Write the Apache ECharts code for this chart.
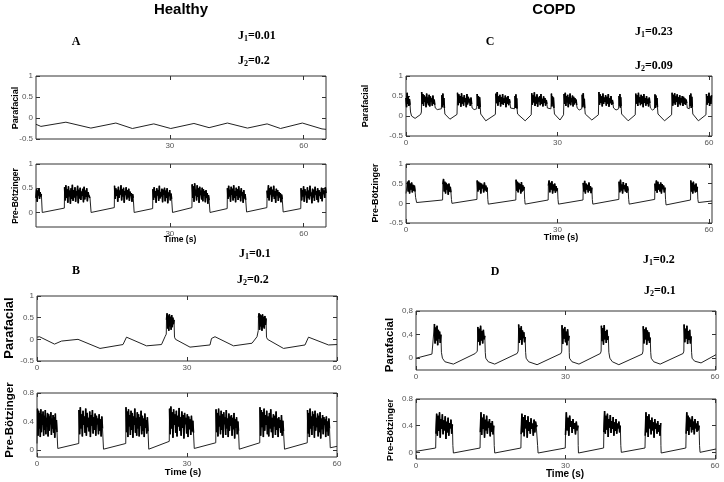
<!DOCTYPE html>
<html><head><meta charset="utf-8">
<script src="https://cdn.jsdelivr.net/npm/echarts@6/dist/echarts.min.js"></script>
<style>html,body{margin:0;padding:0;background:#fff}#c{width:724px;height:482px}</style>
</head><body><div id="c"></div>
<script>
// ---------- DATA (time in s, activity) ----------
// Slow-wave key points [t, v]; bursts: [tStart, tEnd, [values x100]]
const A1_wave = [[0,-0.15],[1.1,-0.2],[6.7,-0.1],[12.3,-0.24],[17.9,-0.12],[21.6,-0.25],[26.4,-0.14],[30.2,-0.25],[35.4,-0.13],[38.8,-0.23],[42.9,-0.12],[47.4,-0.24],[51.8,-0.14],[54.8,-0.25],[59.7,-0.12],[64.1,-0.26],[65,-0.27]];

const A2_wave = [[1.4,0.0],[6.35,0.09],[12.35,0.0],[17.55,0.1],[22.0,0.0],[26.15,0.08],[30.6,0.0],[34.95,0.1],[39.0,0.0],[42.85,0.08],[47.2,0.01],[51.75,0.1],[55.4,0.01],[59.35,0.08]];
const A2_bursts = [
 [0,1.2,[30,48,22,45,35,50,28,42,33,38]],
 [6.4,12.1,[52,25,56,30,48,20,54,33,45,18,50,28,57,24,46,31,52,22,44,35,55,19,47,29,51,26,43,34,49,21,53,27,45,32,50,23,42,36,38,30]],
 [17.6,21.8,[55,28,50,34,47,22,53,30,45,37,56,25,48,33,51,20,44,36,52,27,46,31,49,24,43,35,40,22,38,30]],
 [26.2,30.4,[48,26,52,31,44,20,50,35,46,24,55,29,42,33,49,21,47,36,51,23,45,30,50,19,41,34,46,25,39,28]],
 [35.0,38.8,[58,30,54,22,60,35,47,25,56,32,50,20,53,36,45,27,51,23,48,34,44,21,46,30,40,18,36,25]],
 [42.9,47.0,[50,28,55,33,47,22,53,36,49,25,56,30,44,21,51,34,48,26,54,31,45,23,50,35,42,20,46,29,38,26]],
 [51.8,55.2,[45,30,56,25,50,37,53,22,47,33,55,28,44,20,49,35,46,24,42,31,40,21,37,27]],
 [59.4,65,[50,25,46,33,54,22,48,36,43,20,52,30,45,27,55,34,41,19,49,31,47,24,53,37,44,26,50,21,46,35,42,28,51,23,48,38,45,30,52,40]]
];

const C1_wave = [[0.9,0.1],[1.1,0.0],[1.8,-0.06],[2.9,0.04],[3.05,0.1],
 [5.8,0.2],[6.2,0.16],[7.0,0.18],[7.7,0.05],[8.0,0.0],[8.7,-0.08],[10.1,0.04],
 [13.1,0.2],[13.5,0.16],[14.0,0.18],[14.8,0.05],[15.1,0.0],[15.8,-0.12],[17.7,0.04],
 [20.7,0.2],[21.0,0.16],[21.5,0.18],[22.1,0.05],[22.4,0.0],[23.6,-0.12],[24.8,0.03],
 [28.0,0.2],[28.3,0.16],[28.7,0.18],[29.4,0.05],[29.7,0.0],[30.5,-0.1],[31.2,0.03],
 [33.9,0.2],[34.3,0.15],[34.8,0.18],[35.5,0.05],[35.8,0.0],[36.8,-0.1],[38.1,0.03],
 [41.1,0.2],[41.6,0.15],[42.1,0.18],[42.7,0.05],[43.0,0.0],[44.0,-0.12],[45.4,0.03],
 [48.4,0.2],[48.8,0.15],[49.2,0.18],[49.9,0.05],[50.2,0.0],[51.2,-0.12],[52.6,0.03],
 [55.7,0.2],[55.9,0.15],[56.1,0.18],[56.8,0.05],[57.1,0.0],[57.9,-0.12],[59.4,0.03]];
const C1_bursts = [
 [0,0.8,[45,22,58,30,50,25,42,28]],
 [3.1,5.7,[60,30,55,25,52,35,48,22,56,32,46,27,53,24,49,36,44,26,51,30,41,28]],
 [7.1,7.6,[52,22,56,28,45,20]],
 [10.2,13.0,[58,27,54,33,50,23,57,31,47,26,52,35,45,22,55,29,48,34,43,25,46,30]],
 [14.1,14.7,[55,25,50,18,47,22]],
 [17.8,20.6,[56,32,60,26,49,35,53,24,47,30,55,28,44,33,51,22,46,31,50,27,42,33]],
 [21.6,22.0,[50,20,54,26,44,18]],
 [24.9,27.9,[57,28,52,34,59,25,48,31,54,23,46,36,50,27,55,30,43,24,49,33,45,26,40,30]],
 [28.8,29.3,[56,24,49,30,46,20]],
 [31.3,33.8,[55,30,58,25,50,34,53,22,47,31,56,27,44,35,51,24,48,29,45,33,41,27]],
 [34.9,35.4,[53,22,57,27,43,19]],
 [38.2,41.0,[60,28,54,33,49,24,56,30,46,35,52,26,48,31,55,23,44,32,50,28,40,30]],
 [42.2,42.6,[50,26,55,21,47,24]],
 [45.5,48.3,[56,31,52,25,58,34,47,27,53,30,49,22,55,33,45,26,50,30,43,24,46,32]],
 [49.3,49.8,[54,20,51,28,45,22]],
 [52.7,55.6,[58,26,53,32,57,28,49,35,54,23,47,31,52,27,45,34,50,25,48,30,44,28,41,32]],
 [56.2,56.7,[52,25,56,20,48,23]],
 [59.5,60.5,[55,28,50,33,58,25,47,30,52]]
];

const C2_wave = [[0,0.25],[1.9,0.15],[2.1,0.02],[7.25,0.085],[9.0,0.1],[9.1,0.0],[14.05,0.1],[16.2,0.1],[16.3,-0.02],[21.75,0.085],
 [23.5,0.1],[23.6,-0.02],[28.15,0.085],[30.1,0.1],[30.2,-0.02],[35.05,0.085],[36.9,0.1],[37.0,-0.02],[42.15,0.1],
 [44.1,0.1],[44.2,-0.02],[49.25,0.1],[51.4,0.1],[51.5,-0.04],[56.35,0.085],[57.8,0.1],[57.9,0.02],[60.6,0.06]];
const C2_bursts = [
 [0.3,1.8,[55,30,58,25,50,35,53,28,47,32,45,30]],
 [7.3,8.9,[48,62,30,55,25,52,35,48,22,50,30,42,28]],
 [14.1,16.1,[58,30,55,35,52,25,50,38,47,28,53,33,45,30,40]],
 [21.8,23.4,[60,32,55,28,52,36,49,25,54,30,46,33,42]],
 [28.2,30.0,[45,58,28,52,35,56,25,48,33,50,27,44,31,38]],
 [35.1,36.8,[52,30,57,25,50,35,47,28,53,32,44,26,40]],
 [42.2,44.0,[55,28,60,33,48,25,54,36,46,30,51,27,43,32]],
 [49.3,51.3,[50,32,58,27,55,35,48,30,53,25,49,36,45,28,40]],
 [56.4,57.7,[58,30,52,25,55,33,47,28,50,30,42]]
];

const B1_wave = [[0,0.05],[0.5,0.06],[3.5,-0.11],[4.9,-0.04],[8.2,0.0],[12.6,-0.21],[17.2,-0.12],[17.9,0.05],[18.2,0.05],[21.9,-0.15],[24.9,-0.12],[25.6,0.06],[25.85,0.12],
 [27.5,0.05],[27.7,0.0],[30.6,-0.18],[34.6,-0.13],[34.9,0.02],[35.6,0.06],[39.3,-0.15],[43.0,-0.09],[44.0,0.06],[44.25,0.2],
 [45.9,0.05],[46.1,0.0],[49.3,-0.21],[53.6,-0.13],[54.3,0.05],[54.6,0.06],[58.3,-0.13],[60,-0.12]];
const B1_bursts = [
 [25.9,27.4,[45,60,25,55,20,58,30,52,22,56,28,50,35,45]],
 [44.3,45.8,[50,60,22,57,30,55,20,58,28,52,25,54,33,48]]
];

const B2_wave = [[0,0.09],[4.15,0.02],[8.35,0.09],[13.3,0.01],[17.75,0.09],[22.35,0.01],[26.45,0.12],[31.45,0.02],[35.75,0.1],[40.45,0.01],[44.55,0.1],[49.5,0.01],[54.05,0.1],[58.65,0.03],[60,0.05]];
const B2_bursts = [
 [0.1,4.0,[58,20,55,30,52,18,57,25,50,35,54,20,48,28,56,22,45,33,52,19,50,27,47,36,53,21,44,30,49,24,46,17,51,29,42,25]],
 [8.4,13.1,[56,22,60,30,50,19,55,35,47,24,58,20,52,32,45,26,54,18,49,34,56,23,46,28,51,20,48,36,44,22,50,27,43,19,47,30]],
 [17.8,22.2,[60,25,54,18,57,33,49,21,55,28,52,17,47,35,58,24,45,20,53,30,50,19,46,34,55,22,48,27,44,18,51,31,42,23,46,26]],
 [26.5,31.3,[58,22,61,30,53,17,57,35,50,24,55,19,48,33,59,27,46,20,54,31,49,16,52,36,45,23,50,18,47,29,43,21,48,26,41,24]],
 [35.8,40.3,[57,25,52,19,58,33,48,22,55,28,50,17,53,36,46,21,56,30,44,18,51,27,47,34,49,20,45,29,52,16,43,31,46,22,40,27]],
 [44.6,49.3,[60,20,56,32,53,18,58,27,49,35,55,22,47,19,52,30,57,25,45,17,50,33,48,21,54,28,44,18,46,31,42,24,49,20,41,26]],
 [54.1,58.5,[56,23,52,18,58,30,47,21,54,34,50,17,55,27,45,32,51,19,48,25,53,16,44,29,49,22,46,35,43,18,47,26,40,20,44,30]]
];

const D1_wave = [[0,0.0],[3.2,0.07],[3.6,0.1],[5.1,0.1],[5.3,0.0],[5.8,-0.06],[7.5,-0.1],[11.9,0.08],[12.3,0.12],
 [13.9,0.1],[14.0,0.0],[14.5,-0.06],[15.8,-0.1],[20.3,0.08],[20.5,0.12],
 [22.0,0.1],[22.1,0.0],[22.6,-0.06],[24.3,-0.11],[29.1,0.08],[29.25,0.12],
 [30.75,0.1],[30.8,0.0],[31.3,-0.06],[32.7,-0.1],[37.0,0.08],[37.15,0.12],
 [38.7,0.1],[38.9,0.0],[39.4,-0.06],[40.7,-0.11],[45.4,0.07],[45.55,0.12],
 [47.1,0.1],[47.2,0.0],[47.7,-0.06],[49.0,-0.1],[53.6,0.08],[53.75,0.12],
 [55.3,0.1],[55.4,0.0],[55.9,-0.05],[57.2,-0.08],[60.2,0.06]];
const D1_bursts = [
 [3.7,5.0,[58,25,52,30,55,22,48,33,45,26,40]],
 [12.4,13.8,[53,28,50,22,55,30,46,25,48,32,38]],
 [20.6,21.9,[57,26,51,31,54,23,47,34,44,27,36]],
 [29.3,30.7,[56,24,50,33,53,27,45,22,49,30,38]],
 [37.2,38.6,[55,29,51,23,56,32,46,26,48,31,37]],
 [45.6,47.0,[54,25,49,32,52,23,47,30,44,26,35]],
 [53.8,55.2,[57,27,50,33,55,24,46,31,48,25,37]]
];

const D2_wave = [[0,0.015],[3.95,0.065],[7.4,0.1],[7.5,-0.01],[12.85,0.065],[15.7,0.1],[15.8,-0.01],[21.05,0.065],[24.4,0.1],[24.5,-0.01],[29.95,0.065],
 [32.55,0.1],[32.6,-0.01],[37.65,0.065],[41.1,0.1],[41.2,0.0],[45.95,0.065],[49.15,0.1],[49.2,-0.01],[54.15,0.065],[56.9,0.1],[57.0,0.0],[60.2,0.05]];
const D2_bursts = [
 [4.0,7.3,[28,58,25,55,32,60,22,50,35,57,27,48,33,54,20,46,30,52,25,44,36,49,28,42]],
 [12.9,15.6,[30,60,26,52,35,57,22,49,33,55,28,46,37,50,24,44,31,47,27,40]],
 [21.1,24.3,[27,58,30,53,24,56,36,48,22,54,32,45,28,51,35,43,25,49,30,46,38,41]],
 [30.0,32.5,[26,60,33,52,25,55,38,47,29,50,35,44,27,46,33,40]],
 [37.7,41.0,[30,62,28,55,34,58,23,50,37,56,29,47,35,53,25,45,32,50,28,43,36,46,30,40]],
 [46.0,49.1,[25,60,30,54,23,57,36,48,27,52,33,45,22,50,35,43,28,47,31,41,25,44]],
 [54.2,56.8,[28,60,32,55,26,52,38,49,30,54,34,46,27,50,36,43,31,47,33,40]]
];

// tick labels
const xTicksA = [30, 60];
const xTicks = [0, 30, 60];
const yTicksFull = [-0.5, 0, 0.5, 1];
const yTicksA2 = [0, 0.5, 1];
const yTicksSmall = [0, 0.4, 0.8];

// ---------- BUILD ----------
function burstPts(b) {
  const [t0, t1, vals] = b, n = vals.length;
  return vals.map((v, i) => [t0 + (t1 - t0) * i / (n - 1), v / 100]);
}
function build(wave, bursts) {
  const pts = wave.map(p => [p[0], p[1]]);
  (bursts || []).forEach(b => burstPts(b).forEach(p => pts.push(p)));
  pts.sort((a, b) => a[0] - b[0]);
  return pts;
}
const fmtDot = v => String(v);
const fmtComma = v => String(v).replace('.', ',');

const panels = [
  {g:[36,76,290,63],  x:[0,65],   xl:xTicksA, y:[-0.5,1], yl:yTicksFull, f:fmtDot,   w:A1_wave, b:[]},
  {g:[36,164,290,63], x:[0,65],   xl:xTicksA, y:[-0.3,1], yl:yTicksA2,   f:fmtDot,   w:A2_wave, b:A2_bursts},
  {g:[406,76,306,60], x:[0,60.6], xl:xTicks,  y:[-0.5,1], yl:yTicksFull, f:fmtDot,   w:C1_wave, b:C1_bursts},
  {g:[406,164,306,59],x:[0,60.6], xl:xTicks,  y:[-0.5,1], yl:yTicksFull, f:fmtDot,   w:C2_wave, b:C2_bursts},
  {g:[37,296,300,65], x:[0,60],   xl:xTicks,  y:[-0.5,1], yl:yTicksFull, f:fmtDot,   w:B1_wave, b:B1_bursts},
  {g:[37,393,300,64], x:[0,60],   xl:xTicks,  y:[-0.1,0.8], yl:yTicksSmall, f:fmtDot, w:B2_wave, b:B2_bursts},
  {g:[416,311,300,59],x:[0,60.2], xl:xTicks,  y:[-0.2,0.8], yl:yTicksSmall, f:fmtComma, w:D1_wave, b:D1_bursts},
  {g:[416,399,300,60],x:[0,60.2], xl:xTicks,  y:[-0.1,0.8], yl:yTicksSmall, f:fmtDot, w:D2_wave, b:D2_bursts}
];

const lab = {fontSize:8, color:'#555', fontFamily:'Liberation Sans'};
const tickStyle = {color:'#333', width:1};
const grid = [], xAxis = [], yAxis = [], series = [];
panels.forEach((p, i) => {
  grid.push({left:p.g[0], top:p.g[1], width:p.g[2], height:p.g[3], show:true, borderColor:'#333', borderWidth:1, outerBoundsMode:'none'});
  ['bottom','top'].forEach((pos, k) => xAxis.push({
    gridIndex:i, type:'value', position:pos, min:p.x[0], max:p.x[1],
    axisLine:{show:false, onZero:false}, splitLine:{show:false},
    axisTick:{show:true, inside:true, length:4, lineStyle:tickStyle, customValues:p.xl},
    axisLabel: k === 0 ? Object.assign({show:true, margin:3, customValues:p.xl}, lab) : {show:false}
  }));
  ['left','right'].forEach((pos, k) => yAxis.push({
    gridIndex:i, type:'value', position:pos, min:p.y[0], max:p.y[1],
    axisLine:{show:false, onZero:false}, splitLine:{show:false},
    axisTick:{show:true, inside:true, length:4, lineStyle:tickStyle, customValues:p.yl},
    axisLabel: k === 0 ? Object.assign({show:true, margin:3, customValues:p.yl, formatter:p.f}, lab) : {show:false}
  }));
  series.push({type:'line', xAxisIndex:2*i, yAxisIndex:2*i, data:build(p.w, p.b), showSymbol:false, symbol:'none',
    lineStyle:{width:1, color:'#222'}, silent:true, animation:false, clip:true});
  // bursts re-drawn with a heavier stroke so the dense oscillations read as solid black
  p.b.forEach(b => series.push({type:'line', xAxisIndex:2*i, yAxisIndex:2*i, data:burstPts(b), showSymbol:false, symbol:'none',
    lineStyle:{width:1.6, color:'#000'}, silent:true, animation:false, clip:true}));
});

const serifB = {fontFamily:'Liberation Serif', fontWeight:'bold', fill:'#000'};
function jText(x, y, idx, val) {
  return {type:'text', x, y, style:{
    text:'{a|J}{s|' + idx + '}{a|=' + val + '}', align:'left', verticalAlign:'middle',
    rich:{a:{fontFamily:'Liberation Serif', fontWeight:'bold', fontSize:12, lineHeight:14, verticalAlign:'middle', fill:'#000'},
          s:{fontFamily:'Liberation Serif', fontWeight:'bold', fontSize:8, lineHeight:14, verticalAlign:'bottom', fill:'#000'}}
  }};
}
function t(x, y, text, size, extra) {
  return {type:'text', x, y, style:Object.assign({text, align:'center', verticalAlign:'middle', fontSize:size, fontFamily:'Liberation Sans', fontWeight:'bold', fill:'#000'}, extra||{})};
}
function vt(x, y, text, size) {
  const e = t(x, y, text, size); e.rotation = Math.PI/2; return e;
}
const graphic = [
  t(181, 10, 'Healthy', 15), t(554, 10, 'COPD', 15),
  t(76, 42, 'A', 12, serifB), t(490, 42, 'C', 12, serifB), t(76, 271, 'B', 12, serifB), t(495, 272, 'D', 12, serifB),
  jText(238, 36, 1, '0.01'), jText(238, 61, 2, '0.2'),
  jText(635, 32, 1, '0.23'), jText(635, 66, 2, '0.09'),
  jText(239, 254, 1, '0.1'), jText(237, 280, 2, '0.2'),
  jText(643, 260, 1, '0.2'), jText(644, 291, 2, '0.1'),
  vt(16, 108, 'Parafacial', 9), vt(16, 196, 'Pre-Bötzinger', 8.5),
  vt(366, 106, 'Parafacial', 9), vt(376, 193, 'Pre-Bötzinger', 9),
  vt(9, 328, 'Parafacial', 13), vt(9.5, 420, 'Pre-Bötzinger', 11.5),
  vt(390, 345, 'Parafacial', 11.5), vt(390, 430, 'Pre-Bötzinger', 9.5),
  t(180, 240, 'Time (s)', 8.5), t(561, 238, 'Time (s)', 9),
  t(183, 472, 'Time (s)', 9.5), t(565, 474, 'Time (s)', 10)
];

const chart = echarts.init(document.getElementById('c'), null, {renderer:'canvas'});
chart.setOption({animation:false, backgroundColor:'#fff', grid, xAxis, yAxis, series, graphic});
</script>
</body></html>
